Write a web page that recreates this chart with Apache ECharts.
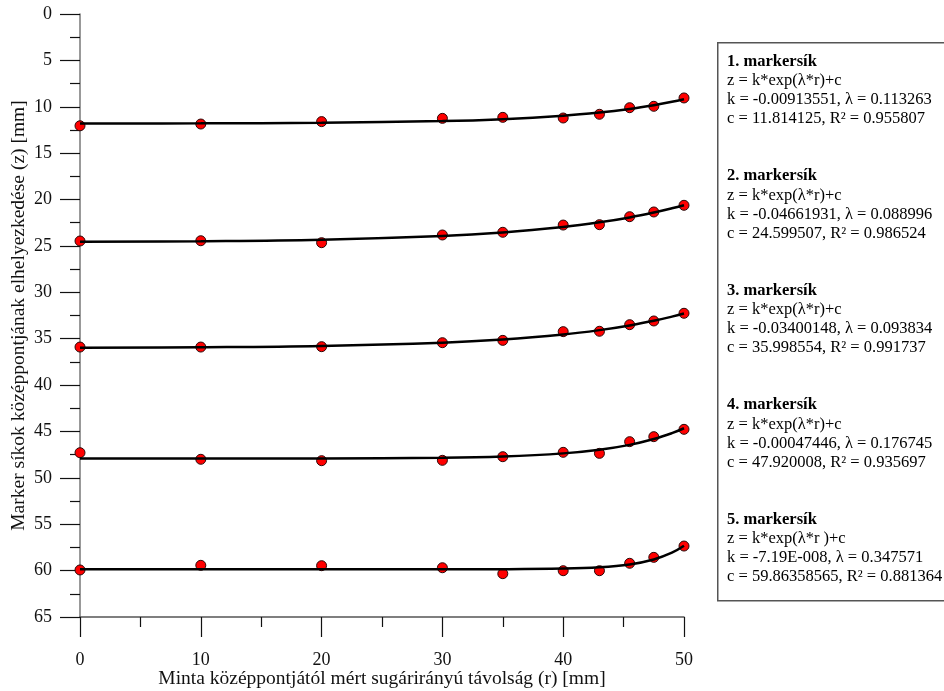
<!DOCTYPE html>
<html>
<head>
<meta charset="utf-8">
<script src="https://cdn.jsdelivr.net/npm/echarts@6/dist/echarts.min.js"></script>
<style>html,body{margin:0;padding:0;background:#fff}#c{width:944px;height:691px}</style>
</head>
<body>
<div id="c"></div>
<script>
// Measured radial distances (r) [mm]
var rValues = [0, 10, 20, 30, 35, 40, 43, 45.5, 47.5, 50];
// Measured marker plane positions (z) [mm]
var plane1 = [12.05, 11.86, 11.6, 11.25, 11.14, 11.21, 10.81, 10.10, 9.95, 9.05];
var plane2 = [24.47, 24.44, 24.65, 23.82, 23.53, 22.75, 22.71, 21.85, 21.34, 20.62];
var plane3 = [35.90, 35.90, 35.86, 35.43, 35.18, 34.24, 34.20, 33.49, 33.09, 32.26];
var plane4 = [47.29, 48.00, 48.15, 48.11, 47.72, 47.25, 47.36, 46.10, 45.56, 44.77];
var plane5 = [59.93, 59.43, 59.47, 59.69, 60.33, 60.01, 60.01, 59.21, 58.57, 57.35];

// Fitted curve sample points
var fitR = [0, 10, 20, 30, 35, 40, 43, 45.5, 47.5, 49, 50];
var fit1 = [11.805, 11.786, 11.726, 11.541, 11.333, 10.966, 10.623, 10.234, 9.832, 9.465, 9.183];
var fit2 = [24.553, 24.486, 24.323, 23.926, 23.549, 22.960, 22.459, 21.926, 21.405, 20.948, 20.608];
var fit3 = [35.965, 35.912, 35.776, 35.431, 35.091, 34.548, 34.076, 33.568, 33.067, 32.623, 32.291];
var fit4 = [47.920, 47.917, 47.904, 47.825, 47.689, 47.362, 46.972, 46.445, 45.819, 45.183, 44.653];
var fit5 = [59.864, 59.864, 59.864, 59.861, 59.850, 59.785, 59.641, 59.332, 58.799, 58.07, 57.326];

var xTicks = [0, 10, 20, 30, 40, 50];
var yTicks = [0, 5, 10, 15, 20, 25, 30, 35, 40, 45, 50, 55, 60, 65];

var legendTitles = ['1. markersík', '2. markersík', '3. markersík', '4. markersík', '5. markersík'];
var legendLines = [
  ['z = k*exp(λ*r)+c', 'k = -0.00913551, λ = 0.113263', 'c = 11.814125, R² = 0.955807'],
  ['z = k*exp(λ*r)+c', 'k = -0.04661931, λ = 0.088996', 'c = 24.599507, R² = 0.986524'],
  ['z = k*exp(λ*r)+c', 'k = -0.03400148, λ = 0.093834', 'c = 35.998554, R² = 0.991737'],
  ['z = k*exp(λ*r)+c', 'k = -0.00047446, λ = 0.176745', 'c = 47.920008, R² = 0.935697'],
  ['z = k*exp(λ*r )+c', 'k = -7.19E-008, λ = 0.347571', 'c = 59.86358565, R² = 0.881364']
];

var FONT = '"Liberation Serif", "Times New Roman", serif';
var planes = [plane1, plane2, plane3, plane4, plane5];
var fits = [fit1, fit2, fit3, fit4, fit5];

function zip(xs, ys) { return xs.map(function (x, i) { return [x, ys[i]]; }); }

var series = [];
planes.forEach(function (p, i) {
  series.push({
    type: 'scatter', name: 'p' + (i + 1), data: zip(rValues, p),
    symbol: 'circle', symbolSize: 10, z: 2,
    itemStyle: { color: '#ff0000', borderColor: '#2a0808', borderWidth: 1, opacity: 1 }
  });
});
fits.forEach(function (f, i) {
  series.push({
    type: 'line', name: 'f' + (i + 1), data: zip(fitR, f),
    smooth: 0.4, showSymbol: false, symbol: 'none', z: 3,
    lineStyle: { color: '#000', width: 2.5 }
  });
});

var graphics = [{
  type: 'rect', left: 717, top: 42, z: 10,
  shape: { x: 0, y: 0, width: 240, height: 558 },
  style: { fill: '#fff', stroke: '#555', lineWidth: 1.5 }
}];
legendTitles.forEach(function (t, i) {
  var y0 = 61 + 114.5 * i;
  graphics.push({
    type: 'text', left: 727, top: y0 - 8, z: 11,
    style: { text: t, font: 'bold 16.5px ' + FONT, fill: '#000' }
  });
  legendLines[i].forEach(function (ln, j) {
    graphics.push({
      type: 'text', left: 727, top: y0 - 8 + 19.2 * (j + 1), z: 11,
      style: { text: ln, font: '16.5px ' + FONT, fill: '#000' }
    });
  });
});

var chart = echarts.init(document.getElementById('c'), null, { renderer: 'canvas' });
chart.setOption({
  animation: false,
  backgroundColor: '#fff',
  grid: { left: 80, top: 14, right: 260, bottom: 74, containLabel: false, outerBoundsMode: 'none' },
  xAxis: {
    type: 'value', min: 0, max: 50, interval: 10,
    name: 'Minta középpontjától mért sugárirányú távolság (r) [mm]',
    nameLocation: 'middle', nameGap: 52, nameMoveOverlap: false,
    nameTextStyle: { fontFamily: FONT, fontSize: 19.5, color: '#111' },
    axisLine: { show: true, onZero: false, lineStyle: { color: '#555', width: 1.5 } },
    axisTick: { show: true, inside: false, length: 20, lineStyle: { color: '#111', width: 1.2 } },
    minorTick: { show: true, splitNumber: 2, length: 10, lineStyle: { color: '#111', width: 1.2 } },
    axisLabel: { margin: 34, fontFamily: FONT, fontSize: 18, color: '#111',
      formatter: function (v) { return xTicks.indexOf(v) >= 0 ? String(v) : ''; } },
    splitLine: { show: false }
  },
  yAxis: {
    type: 'value', min: 0, max: 65, interval: 5, inverse: true,
    name: 'Marker síkok középpontjának elhelyezkedése (z) [mm]',
    nameLocation: 'middle', nameGap: 51, nameRotate: 90, nameMoveOverlap: false,
    nameTextStyle: { fontFamily: FONT, fontSize: 19.5, color: '#111' },
    axisLine: { show: true, onZero: false, lineStyle: { color: '#777', width: 1.5 } },
    axisTick: { show: true, inside: false, length: 20, lineStyle: { color: '#111', width: 1.2 } },
    minorTick: { show: true, splitNumber: 2, length: 10, lineStyle: { color: '#111', width: 1.2 } },
    axisLabel: { margin: 28, fontFamily: FONT, fontSize: 18, color: '#111',
      formatter: function (v) { return yTicks.indexOf(v) >= 0 ? String(v) : ''; } },
    splitLine: { show: false }
  },
  series: series,
  graphic: graphics
});
</script>
</body>
</html>
